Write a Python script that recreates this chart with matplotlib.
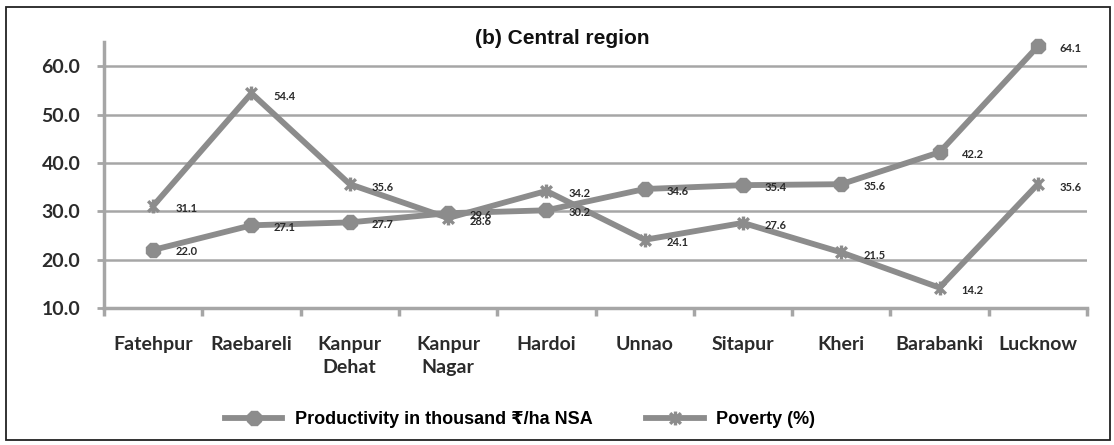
import matplotlib
matplotlib.use("Agg")
import matplotlib.pyplot as plt
from matplotlib.path import Path
from matplotlib.patches import Rectangle

districts = ["Fatehpur", "Raebareli", "Kanpur\nDehat", "Kanpur\nNagar", "Hardoi",
             "Unnao", "Sitapur", "Kheri", "Barabanki", "Lucknow"]
productivity = [22.0, 27.1, 27.7, 29.6, 30.2, 34.6, 35.4, 35.6, 42.2, 64.1]
poverty = [31.1, 54.4, 35.6, 28.6, 34.2, 24.1, 27.6, 21.5, 14.2, 35.6]
yticks = [10, 20, 30, 40, 50, 60]

line_col = "#8c8c8c"
grid_col = "#a6a6a6"
txt_col = "#2b2b2b"

# excel style star marker: an x plus a vertical bar
star = Path([(-1, -1), (1, 1), (-1, 1), (1, -1), (0, -1.3), (0, 1.3)],
            [Path.MOVETO, Path.LINETO, Path.MOVETO, Path.LINETO, Path.MOVETO, Path.LINETO])

fig = plt.figure(figsize=(11.14, 4.45), dpi=100)
ax = fig.add_axes([104 / 1114, 1 - 308 / 445, 983 / 1114, 266 / 445])

x = list(range(len(districts)))
ax.plot(x, productivity, color=line_col, lw=4.2, marker="8", ms=11,
        mfc=line_col, mec=line_col, label="Productivity in thousand \u20b9/ha NSA",
        zorder=3, clip_on=False)
ax.plot(x, poverty, color=line_col, lw=4.2, marker=star, ms=10, mfc="none",
        mec=line_col, mew=2.4, label="Poverty (%)", zorder=3, clip_on=False)

for xi, v in zip(x, productivity):
    ax.annotate(f"{v:.1f}", (xi, v), xytext=(22, -2), textcoords="offset pixels",
                ha="left", va="center", fontsize=8, fontweight="bold",
                family="Lato", color=txt_col, zorder=4)
for xi, v in zip(x, poverty):
    ax.annotate(f"{v:.1f}", (xi, v), xytext=(22, -3), textcoords="offset pixels",
                ha="left", va="center", fontsize=8, fontweight="bold",
                family="Lato", color=txt_col, zorder=4)

ax.set_xlim(-0.5, len(districts) - 0.5)
ax.set_ylim(10, 65)
ax.set_yticks(yticks)
ax.set_yticklabels([f"{t:.1f}" for t in yticks], fontsize=14, fontweight="bold",
                   family="Lato", color=txt_col)
for t in yticks[1:]:
    ax.axhline(t, color=grid_col, lw=1.8, zorder=1)

ax.set_xticks(x)
ax.set_xticklabels(districts, fontsize=14, fontweight="bold", family="Lato",
                   color=txt_col, linespacing=1.45)
ax.set_xticks([i - 0.5 for i in range(len(districts) + 1)], minor=True)
ax.tick_params(axis="x", which="major", length=0, pad=20)
ax.tick_params(axis="x", which="minor", length=6, width=2.5, color=grid_col, direction="out")
ax.tick_params(axis="y", length=5, width=2, color=grid_col, direction="out", pad=12)

for s in ["top", "right"]:
    ax.spines[s].set_visible(False)
for s in ["left", "bottom"]:
    ax.spines[s].set_color(grid_col)
    ax.spines[s].set_linewidth(2.5)

fig.text(562 / 1114, 1 - 38 / 445, "(b) Central region", ha="center", va="center",
         fontsize=15, fontweight="bold", family="Liberation Sans", color="#111111")

fig.legend(loc="center", bbox_to_anchor=(520 / 1114, 1 - 420 / 445), ncol=2,
           frameon=False, handlelength=3.2, handletextpad=0.67, columnspacing=3.0,
           prop={"family": ["Liberation Sans", "DejaVu Sans"], "weight": "bold", "size": 13})

fig.patches.append(Rectangle((6 / 1114, 5 / 445), 1104 / 1114, 433 / 445,
                             transform=fig.transFigure, fill=False, ec="#222222", lw=1.3))

fig.savefig("out.png", dpi=100)
